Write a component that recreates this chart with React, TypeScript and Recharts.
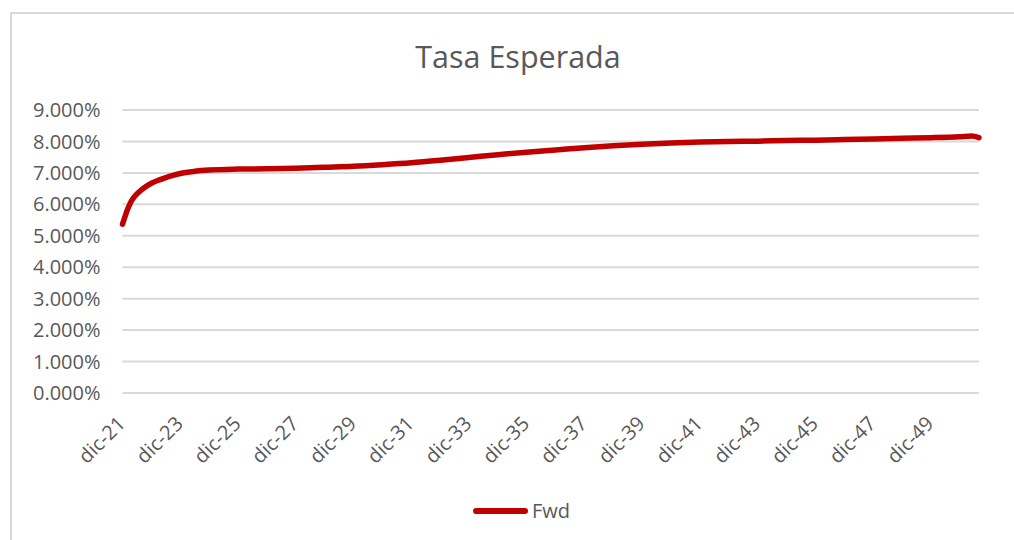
import { CartesianGrid, Line, LineChart, XAxis, YAxis } from "recharts";

const LINE_COLOR = "#c00000";
const TEXT_COLOR = "#595959";
const GRID_COLOR = "#d9d9d9";
const FONT = "'Open Sans', 'Noto Sans', sans-serif";

// months counted from dic-21
const MONTHS = [
  0, 1, 2, 3, 4, 6, 8, 10, 12, 15, 18, 21, 24, 30, 36, 48, 60, 72, 84, 96, 108,
  120, 132, 144, 156, 168, 180, 192, 204, 216, 228, 240, 252, 264, 276, 288,
  300, 312, 324, 336, 348, 353, 356,
];
const FWD = [
  5.37, 5.6, 5.82, 6.0, 6.14, 6.33, 6.47, 6.58, 6.67, 6.77, 6.85, 6.92, 6.98,
  7.05, 7.09, 7.12, 7.13, 7.15, 7.18, 7.21, 7.26, 7.32, 7.4, 7.49, 7.58, 7.66,
  7.73, 7.8, 7.86, 7.91, 7.95, 7.98, 8.0, 8.01, 8.03, 8.04, 8.06, 8.08, 8.1,
  8.12, 8.15, 8.17, 8.12,
];

const X_TICKS = [0, 24, 48, 72, 96, 120, 144, 168, 192, 216, 240, 264, 288, 312, 336];
const X_TICK_LABELS = [
  "dic-21", "dic-23", "dic-25", "dic-27", "dic-29", "dic-31", "dic-33", "dic-35",
  "dic-37", "dic-39", "dic-41", "dic-43", "dic-45", "dic-47", "dic-49",
];
const Y_TICKS = [0, 1, 2, 3, 4, 5, 6, 7, 8, 9];

const data = MONTHS.map((m, i) => ({ m, fwd: FWD[i] }));

type TickProps = { x?: number; y?: number; payload?: { value: number } };

function RotatedTick({ x = 0, y = 0, payload }: TickProps) {
  const idx = X_TICKS.indexOf(payload?.value ?? -1);
  return (
    <g transform={`translate(${x + 4},${y + 32})`}>
      <text
        x={0}
        y={0}
        textAnchor="end"
        transform="rotate(-45)"
        fill={TEXT_COLOR}
        fontSize={20}
        fontFamily={FONT}
      >
        {X_TICK_LABELS[idx]}
      </text>
    </g>
  );
}

export default function App() {
  return (
    <div
      style={{
        position: "relative",
        width: 1014,
        height: 540,
        overflow: "hidden",
        background: "#fff",
        fontFamily: FONT,
      }}
    >
      <style>{"body{margin:0}"}</style>
      <div
        style={{
          position: "absolute",
          left: 10,
          top: 12,
          width: 1040,
          height: 560,
          border: `2px solid ${GRID_COLOR}`,
        }}
      />
      <div
        style={{
          position: "absolute",
          left: 10,
          top: 35,
          width: 1016,
          textAlign: "center",
          fontSize: 30.5,
          color: TEXT_COLOR,
          lineHeight: "normal",
        }}
      >
        Tasa Esperada
      </div>
      <div style={{ position: "absolute", left: 0, top: 0 }}>
        <LineChart
          width={1014}
          height={540}
          data={data}
          margin={{ top: 110, right: 35, bottom: 0, left: 0 }}
        >
          <CartesianGrid
            vertical={false}
            stroke={GRID_COLOR}
            strokeWidth={2}
          />
          <XAxis
            dataKey="m"
            type="number"
            domain={[0, 356]}
            ticks={X_TICKS}
            interval={0}
            axisLine={false}
            tickLine={false}
            tickSize={0}
            tickMargin={0}
            height={147}
            tick={<RotatedTick />}
          />
          <YAxis
            domain={[0, 9]}
            ticks={Y_TICKS}
            width={122.5}
            axisLine={false}
            tickLine={false}
            tickSize={0}
            tickMargin={22}
            tick={{ fontSize: 20, fill: TEXT_COLOR, fontFamily: FONT }}
            tickFormatter={(v) => `${(v as number).toFixed(3)}%`}
          />
          <Line
            type="monotone"
            dataKey="fwd"
            name="Fwd"
            stroke={LINE_COLOR}
            strokeWidth={5.5}
            strokeLinecap="round"
            strokeLinejoin="round"
            dot={false}
            isAnimationActive={false}
          />
        </LineChart>
      </div>
      <div
        style={{
          position: "absolute",
          left: 473,
          top: 497,
          display: "flex",
          alignItems: "center",
          fontSize: 20,
          color: TEXT_COLOR,
          lineHeight: "normal",
        }}
      >
        <span
          style={{
            display: "inline-block",
            width: 55,
            height: 6,
            borderRadius: 3,
            background: LINE_COLOR,
          }}
        />
        <span style={{ marginLeft: 4 }}>Fwd</span>
      </div>
    </div>
  );
}
